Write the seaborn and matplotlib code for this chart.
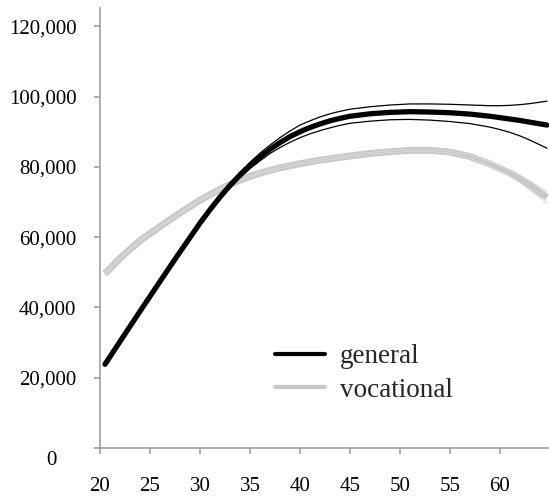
import numpy as np
import pandas as pd
import matplotlib
matplotlib.use("Agg")
import matplotlib.pyplot as plt
from matplotlib.lines import Line2D
from matplotlib.transforms import ScaledTranslation
from matplotlib.ticker import FuncFormatter
import seaborn as sns

# ---- data ----
age = [20.5, 22, 24, 26, 28, 30, 31, 32, 33, 34, 35, 36, 37, 38, 39, 40, 41, 42, 43, 44,
       45, 47, 49, 51, 53, 55, 57, 59, 60, 61, 62, 63, 64.7]

general = [23800, 30300, 38900, 47400, 55800, 64000, 67800, 71400, 74700, 77700,
           80400, 82800, 85000, 86900, 88600, 90000, 91200, 92200, 93100, 93800,
           94400, 95100, 95500, 95700, 95600, 95400, 95000, 94400, 94000, 93600,
           93200, 92700, 91900]
general_hi = [24200, 30700, 39300, 47800, 56300, 64500, 68300, 72000, 75400, 78500,
              81300, 83900, 86200, 88300, 90200, 91900, 93100, 94200, 95100, 95800,
              96400, 97100, 97600, 97900, 97900, 97800, 97600, 97400, 97400, 97500,
              97700, 98000, 98700]
general_lo = [23400, 29900, 38500, 47000, 55300, 63500, 67300, 70800, 74000, 76900,
              79500, 81700, 83800, 85500, 87000, 88300, 89400, 90300, 91100, 91800,
              92400, 93000, 93400, 93500, 93300, 92900, 92300, 91300, 90600, 89800,
              88800, 87600, 85300]

vocational = [49600, 54000, 59000, 63000, 66900, 70500, 72100, 73600, 75000, 76200,
              77300, 78200, 79000, 79700, 80300, 80900, 81400, 81900, 82300, 82700,
              83100, 83800, 84300, 84700, 84700, 84200, 82900, 80800, 79500, 78200,
              76600, 74700, 71300]
vocational_hi = [49900, 54300, 59300, 63300, 67200, 70800, 72400, 73900, 75300, 76500,
                 77600, 78500, 79300, 80000, 80600, 81200, 81700, 82200, 82600, 83000,
                 83400, 84100, 84600, 85000, 85000, 84500, 83400, 81500, 80300, 79100,
                 77700, 76000, 72900]
vocational_lo = [49300, 53700, 58700, 62700, 66600, 70200, 71800, 73300, 74700, 75900,
                 77000, 77900, 78700, 79400, 80000, 80600, 81100, 81600, 82000, 82400,
                 82800, 83500, 84000, 84400, 84400, 83900, 82400, 80100, 78700, 77300,
                 75500, 73400, 69700]

series_names = ["general", "vocational"]
y_ticks = [0, 20000, 40000, 60000, 80000, 100000, 120000]
x_ticks = [20, 25, 30, 35, 40, 45, 50, 55, 60]

df_g = pd.DataFrame({"age": age, "mid": general, "hi": general_hi, "lo": general_lo})
df_v = pd.DataFrame({"age": age, "mid": vocational, "hi": vocational_hi, "lo": vocational_lo})

sns.set_style("white")
plt.rcParams["font.family"] = ["Liberation Serif", "DejaVu Serif"]

fig = plt.figure(figsize=(5.49, 4.97), dpi=100)
ax = fig.add_axes([100 / 549, 1 - 448 / 497, 449 / 549, 440 / 497])

c_black = "#000000"
c_gray = "#c8c8c8"

# general
sns.lineplot(data=df_g, x="age", y="mid", ax=ax, color=c_black, linewidth=3.8,
             solid_capstyle="round", solid_joinstyle="round", zorder=3)
sns.lineplot(data=df_g, x="age", y="hi", ax=ax, color=c_black, linewidth=0.9, zorder=3)
sns.lineplot(data=df_g, x="age", y="lo", ax=ax, color=c_black, linewidth=0.9, zorder=3)
# vocational
sns.lineplot(data=df_v, x="age", y="mid", ax=ax, color=c_gray, linewidth=5.0,
             solid_capstyle="butt", solid_joinstyle="round", zorder=2)
sns.lineplot(data=df_v, x="age", y="hi", ax=ax, color="#d8d8d8", linewidth=0.8, zorder=2)
sns.lineplot(data=df_v, x="age", y="lo", ax=ax, color="#d8d8d8", linewidth=0.8, zorder=2)

ax.set_xlim(20, 64.9)
ax.set_ylim(0, 125200)
ax.set_xticks(x_ticks)
ax.set_yticks(y_ticks)
ax.yaxis.set_major_formatter(FuncFormatter(lambda v, p: f"{int(v):,}"))
ax.set_xlabel("")
ax.set_ylabel("")

for s in ["top", "right"]:
    ax.spines[s].set_visible(False)
axis_col = "#a0a0a0"
for s in ["left", "bottom"]:
    ax.spines[s].set_color(axis_col)
    ax.spines[s].set_linewidth(1.2)

ax.tick_params(axis="both", which="major", direction="out", length=4, width=1.2,
               color=axis_col, labelsize=15, labelcolor="#000000")
ax.tick_params(axis="y", pad=13)
ax.tick_params(axis="x", pad=17)
ax.tick_params(left=True, bottom=True)

fig.canvas.draw()
lbl0 = ax.get_yticklabels()[0]
lbl0.set_transform(lbl0.get_transform() + ScaledTranslation(-20 / 100, -10 / 100, fig.dpi_scale_trans))

handles = [Line2D([], [], color=c_black, linewidth=3.0),
           Line2D([], [], color=c_gray, linewidth=3.0)]
fig.legend(handles, series_names, loc="upper left",
           bbox_to_anchor=(275 / 549, 1 - 344 / 497), bbox_transform=fig.transFigure,
           frameon=False, fontsize=19.5, handlelength=1.85, handletextpad=0.55,
           labelspacing=0.32, borderpad=0, borderaxespad=0)

fig.savefig("out.png", dpi=100)
